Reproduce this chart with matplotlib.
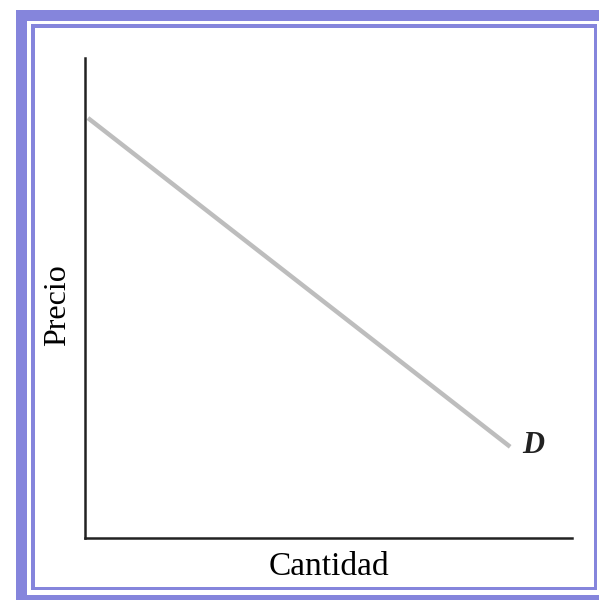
# curva de demanda: precio vs cantidad
import matplotlib.pyplot as plt
from matplotlib.patches import Rectangle

# datos
cantidad = [0.6, 87.3]
precio = [87.5, 19.0]
etiqueta_curva = 'D'
x_label = 'Cantidad'
y_label = 'Precio'

borde = '#8585dc'
W, H = 599.0, 600.0


def rect(x0, y0, x1, y1, color):
    # coordenadas en pixeles, origen arriba a la izquierda
    r = Rectangle((x0 / W, 1 - y1 / H), (x1 - x0) / W, (y1 - y0) / H,
                  transform=fig.transFigure, facecolor=color,
                  edgecolor='none', zorder=-10)
    fig.patches.append(r)


fig = plt.figure(figsize=(5.99, 6), dpi=100)
fig.patch.set_facecolor('white')

# marco doble (banda gruesa + linea fina)
rect(16, 10, 599, 600, borde)
rect(27, 21, 599, 595, 'white')
rect(31, 24, 597, 590, borde)
rect(35, 28, 594, 587, 'white')

ax = fig.add_axes([85 / W, 62 / H, 487 / W, 480 / H])
ax.patch.set_alpha(0)
ax.plot(cantidad, precio, color='#bdbdbd', lw=3.2, solid_capstyle='butt')
ax.text(cantidad[-1] + 4.7, precio[-1] + 0.2, etiqueta_curva, fontsize=22,
        family='Liberation Serif', style='italic', weight='bold',
        va='center', ha='center', color='#222222')

ax.set_xlim(0, 100)
ax.set_ylim(0, 100)
for s in ['top', 'right']:
    ax.spines[s].set_visible(False)
for s in ['left', 'bottom']:
    ax.spines[s].set_linewidth(1.8)
    ax.spines[s].set_color('#222222')
ax.set_xticks([])
ax.set_yticks([])
ax.set_xlabel(x_label, fontsize=24, family='Liberation Serif', labelpad=10)
ax.set_ylabel(y_label, fontsize=23, family='Liberation Serif', labelpad=9)
ax.yaxis.label.set_y(0.485)

plt.savefig('out.png', dpi=100)
